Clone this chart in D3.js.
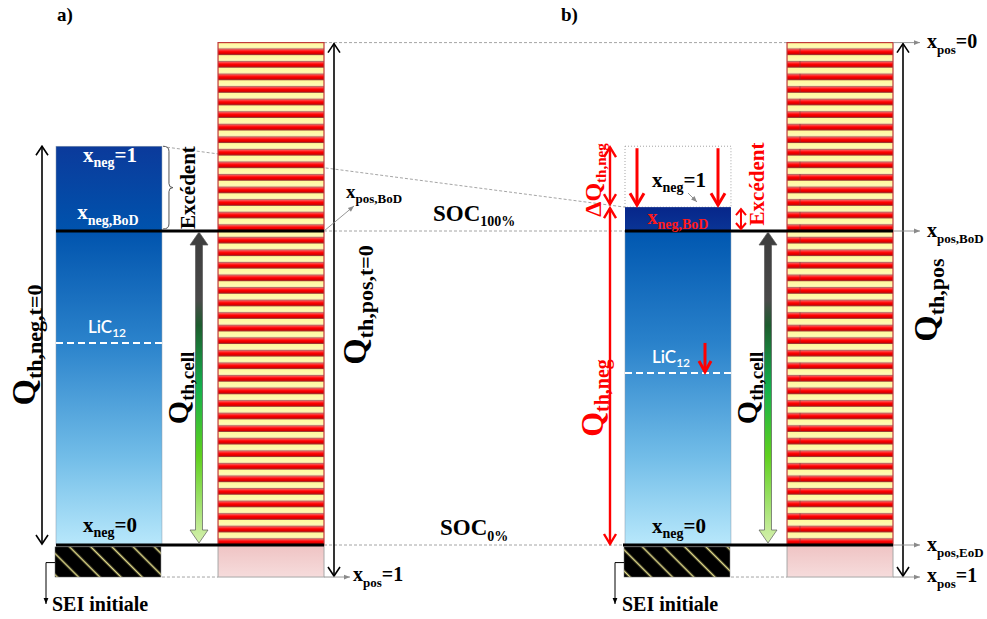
<!DOCTYPE html>
<html><head><meta charset="utf-8">
<script src="https://cdn.jsdelivr.net/npm/d3@7"></script>
<style>body{margin:0;background:#fff}svg{display:block}</style>
</head><body>
<svg id="c" width="987" height="619"></svg>
<script>
// ---- data (capacity levels, arbitrary units: SOC0% = 0, SOC100% = 100) ----
const panels = ["a", "b"];
const panelLabels = ["a)", "b)"];
const electrodes = ["neg", "pos"];
const socLevels = [0, 100];
const socSubs = ["0%", "100%"];
const posTop = 160, posBottom = -10.2;
const negTopLevels = [127, 107.6];      // x_neg = 1 (panel a, panel b)
const lic12Levels = [64.3, 54.8];       // LiC12 (panel a, panel b)
const seiLevels = [-0.6, -10.2];
const posMarks = [160, 100, 0, -10.2];
const posMarkSubs = ["pos", "pos,BoD", "pos,EoD", "pos"];
const posMarkTails = ["=0", "", "", "=1"];

const SERIF = "'Liberation Serif','Times New Roman',serif";
const svg = d3.select("#c");
const y = d3.scaleLinear().domain([0, 100]).range([545, 231]);
const xPanel = d3.scaleBand().domain(panels).range([56, 56 + 2 * 569]);
const xElec = d3.scaleBand().domain(electrodes).range([0, 268]).paddingInner(0.346);
const X = (p, e) => xPanel(p) + xElec(e);
const bw = xElec.bandwidth();

// ---- defs ----
const defs = svg.append("defs");
function lg(id, stops, x2 = 0, y2 = 1) {
  const g = defs.append("linearGradient").attr("id", id).attr("x1", 0).attr("y1", 0).attr("x2", x2).attr("y2", y2);
  stops.forEach(([o, c]) => g.append("stop").attr("offset", o).attr("stop-color", c));
}
lg("negA", [[0, "#0b3a9b"], [0.21, "#0053ad"], [0.5, "#2c84cc"], [0.78, "#72bde8"], [1, "#b8e8fb"]]);
lg("negB", [[0, "#0057b0"], [0.36, "#2a82cb"], [0.72, "#72bde8"], [1, "#b8e8fb"]]);
lg("negTopB", [[0, "#07268a"], [1, "#0a3596"]]);
lg("redBand", [[0, "#f4b0b0"], [0.22, "#ff3a3a"], [0.5, "#ff0000"], [0.82, "#d40000"], [1, "#7a0a0a"]]);
lg("yelBand", [[0, "#fff99a"], [1, "#fffce0"]]);
lg("pink", [[0, "#efc3c3"], [1, "#f6dcdc"]]);
lg("cell", [[0, "#3d3d3d"], [0.22, "#4a4a4a"], [0.3, "#1d5c2e"], [0.5, "#13b04c"], [0.72, "#5fd01e"], [1, "#d6f0ae"]]);

const stripeH = (y(0) - y(posTop)) / 40;
const sp = defs.append("pattern").attr("id", "stripes").attr("patternUnits", "userSpaceOnUse")
  .attr("width", 400).attr("height", stripeH).attr("y", y(posTop));
sp.append("rect").attr("width", 400).attr("height", stripeH).attr("fill", "url(#yelBand)");
sp.append("rect").attr("y", stripeH * 0.48).attr("width", 400).attr("height", stripeH * 0.5)
  .attr("fill", "url(#redBand)").attr("stroke", "#8a3030").attr("stroke-width", 0.6);

const sei = defs.append("pattern").attr("id", "sei").attr("patternUnits", "userSpaceOnUse")
  .attr("width", 15).attr("height", 15).attr("patternTransform", "rotate(45)");
sei.append("rect").attr("width", 15).attr("height", 15).attr("fill", "#000");
sei.append("line").attr("x1", 0).attr("x2", 15).attr("y1", 7.5).attr("y2", 7.5)
  .attr("stroke", "#e6df8c").attr("stroke-width", 1.6);

defs.append("marker").attr("id", "gh").attr("viewBox", "0 0 10 10").attr("refX", 10).attr("refY", 5)
  .attr("markerUnits", "userSpaceOnUse").attr("markerWidth", 7).attr("markerHeight", 6).attr("orient", "auto")
  .append("path").attr("d", "M0,1L10,5L0,9z").attr("fill", "#8a8a8a");
defs.append("marker").attr("id", "bh").attr("viewBox", "0 0 10 10").attr("refX", 10).attr("refY", 5)
  .attr("markerUnits", "userSpaceOnUse").attr("markerWidth", 6).attr("markerHeight", 6).attr("orient", "auto")
  .append("path").attr("d", "M0,1L10,5L0,9z").attr("fill", "#000");

// ---- helpers ----
function rich(g, x, yy, parts, o = {}) {
  const t = g.append("text").attr("text-anchor", o.anchor || "start").attr("fill", o.fill || "#000")
    .attr("font-family", o.family || SERIF).attr("font-weight", o.weight || "bold");
  if (o.rotate) t.attr("transform", `translate(${x},${yy}) rotate(${o.rotate})`);
  else t.attr("x", x).attr("y", yy);
  let prev = 0;
  parts.forEach(([s, size, shift = 0]) => {
    t.append("tspan").attr("font-size", size).attr("dy", shift - prev).text(s);
    prev = shift;
  });
  return t;
}
function vArrow(g, x, y1, y2, o = {}) {
  const c = o.color || "#000", w = o.width || 1.6, hw = o.hw || 6, hh = o.hh || 9;
  const heads = o.heads || [true, true];
  g.append("line").attr("x1", x).attr("x2", x).attr("y1", y1).attr("y2", y2)
    .attr("stroke", c).attr("stroke-width", w);
  const p = d3.path();
  if (heads[0]) { p.moveTo(x - hw, y1 + hh); p.lineTo(x, y1); p.lineTo(x + hw, y1 + hh); }
  if (heads[1]) { p.moveTo(x - hw, y2 - hh); p.lineTo(x, y2); p.lineTo(x + hw, y2 - hh); }
  g.append("path").attr("d", p.toString()).attr("fill", "none").attr("stroke", c)
    .attr("stroke-width", w).attr("stroke-linejoin", "miter");
}
function dashed(g, x1, y1, x2, y2) {
  g.append("line").attr("x1", x1).attr("y1", y1).attr("x2", x2).attr("y2", y2)
    .attr("stroke", "#9a9a9a").attr("stroke-width", 0.9).attr("stroke-dasharray", "3,2");
}
function grayArrow(g, x1, y1, x2, y2) {
  g.append("line").attr("x1", x1).attr("y1", y1).attr("x2", x2).attr("y2", y2)
    .attr("stroke", "#8a8a8a").attr("stroke-width", 0.9).attr("marker-end", "url(#gh)");
}

const gBack = svg.append("g");
const gMain = svg.append("g");
const gTop = svg.append("g");

// ---- guide lines ----
dashed(gBack, X("a", "pos") + bw, y(posTop), X("b", "pos"), y(posTop));
dashed(gBack, X("a", "pos") + bw, y(100), X("b", "neg"), y(100));
dashed(gBack, X("a", "pos") + bw, y(0), X("b", "neg"), y(0));
dashed(gBack, X("a", "neg") + bw, y(posBottom), X("a", "pos"), y(posBottom));
dashed(gBack, X("b", "neg") + bw, y(posBottom), X("b", "pos"), y(posBottom));
dashed(gBack, X("a", "neg") + bw + 5, y(negTopLevels[0]) + 1, X("b", "neg"), y(negTopLevels[1]));

panels.forEach((p, i) => {
  const nx = X(p, "neg"), px = X(p, "pos");
  rich(gTop, xPanel(p) + 1 + (i ? -65 : 0), 21, [[panelLabels[i], 19]]);

  // negative electrode
  if (i === 0) {
    gMain.append("rect").attr("x", nx).attr("y", y(negTopLevels[0])).attr("width", bw)
      .attr("height", y(0) - y(negTopLevels[0])).attr("fill", "url(#negA)").attr("stroke", "#8899aa").attr("stroke-width", 0.5);
  } else {
    gMain.append("rect").attr("x", nx).attr("y", y(negTopLevels[0])).attr("width", bw)
      .attr("height", y(negTopLevels[1]) - y(negTopLevels[0])).attr("fill", "none")
      .attr("stroke", "#9a9a9a").attr("stroke-width", 0.9).attr("stroke-dasharray", "1,2");
    gMain.append("rect").attr("x", nx).attr("y", y(negTopLevels[1])).attr("width", bw)
      .attr("height", y(100) - y(negTopLevels[1])).attr("fill", "url(#negTopB)");
    gMain.append("rect").attr("x", nx).attr("y", y(100)).attr("width", bw)
      .attr("height", y(0) - y(100)).attr("fill", "url(#negB)").attr("stroke", "#8899aa").attr("stroke-width", 0.5);
  }
  // SEI
  gMain.append("rect").attr("x", nx - 1).attr("y", y(seiLevels[0])).attr("width", bw)
    .attr("height", y(seiLevels[1]) - y(seiLevels[0])).attr("fill", "url(#sei)").attr("stroke", "#777").attr("stroke-width", 0.5);
  const sl = d3.path(); sl.moveTo(nx - 1, y(-5.6)); sl.lineTo(nx - 10, y(-5.6)); sl.lineTo(nx - 10, 604);
  gMain.append("path").attr("d", sl.toString()).attr("fill", "none").attr("stroke", "#000").attr("stroke-width", 1).attr("marker-end", "url(#bh)");
  rich(gTop, nx - 4 + (i ? 1 : 0), 611, [["SEI initiale", 20]]);

  // LiC12
  gMain.append("line").attr("x1", nx).attr("x2", nx + bw).attr("y1", y(lic12Levels[i])).attr("y2", y(lic12Levels[i]))
    .attr("stroke", "#fff").attr("stroke-width", 2).attr("stroke-dasharray", "7,4");
  rich(gTop, nx + (i ? 27 : 32), y(lic12Levels[i]) - 10, [["LiC", 17], ["12", 12, 4]], { fill: "#fff", family: "Lato,'Open Sans',sans-serif", weight: 600 });

  // positive electrode
  gMain.append("rect").attr("x", px).attr("y", y(posTop)).attr("width", bw).attr("height", y(0) - y(posTop))
    .attr("fill", "url(#stripes)").attr("stroke", "#c03a3a").attr("stroke-width", 1.2);
  gMain.append("rect").attr("x", px).attr("y", y(0)).attr("width", bw).attr("height", y(posBottom) - y(0))
    .attr("fill", "url(#pink)").attr("stroke", "#a8a8a8").attr("stroke-width", 1);

  // thick SOC lines
  socLevels.forEach(s => gMain.append("line").attr("x1", nx - (s === 0 && i ? 2 : 0)).attr("x2", px + bw)
    .attr("y1", y(s)).attr("y2", y(s)).attr("stroke", "#000").attr("stroke-width", 3));

  // Q_th,cell gradient arrow
  const cx = nx + 143;
  const t0 = y(100) + 1, b0 = y(0) - 2;
  const ap = d3.path();
  ap.moveTo(cx, t0); ap.lineTo(cx + 9, t0 + 13); ap.lineTo(cx + 3.5, t0 + 13); ap.lineTo(cx + 3.5, b0 - 13);
  ap.lineTo(cx + 9, b0 - 13); ap.lineTo(cx, b0); ap.lineTo(cx - 9, b0 - 13); ap.lineTo(cx - 3.5, b0 - 13);
  ap.lineTo(cx - 3.5, t0 + 13); ap.lineTo(cx - 9, t0 + 13); ap.closePath();
  gMain.append("path").attr("d", ap.toString()).attr("fill", "url(#cell)").attr("stroke", "#5a5a5a").attr("stroke-width", 0.7);
  rich(gTop, cx - 11, 388, [["Q", 30], ["th,cell", 19, 6]], { rotate: -90, anchor: "middle" });

  // positive arrow
  vArrow(gMain, px + bw + 10, y(posTop) + 1, y(posBottom) - 1);
});

// ---- panel a specifics ----
{
  const nx = X("a", "neg"), px = X("a", "pos");
  vArrow(gMain, nx - 14, y(negTopLevels[0]), y(0) - 1);
  rich(gTop, 35, 345, [["Q", 34], ["th,neg,t=0", 22, 7]], { rotate: -90, anchor: "middle" });
  rich(gTop, nx + 54, 162, [["x", 21], ["neg", 14, 5], ["=1", 21, 0]], { anchor: "middle", fill: "#fff" });
  rich(gTop, nx + 52, 219, [["x", 21], ["neg,BoD", 14, 6]], { anchor: "middle", fill: "#fff" });
  rich(gTop, nx + 54, 532, [["x", 21], ["neg", 14, 5], ["=0", 21, 0]], { anchor: "middle" });
  // Excédent bracket
  const t = y(negTopLevels[0]), b = y(100) - 2, m = (t + b) / 2, bx = nx + bw + 1;
  const br = d3.path();
  br.moveTo(bx, t); br.quadraticCurveTo(bx + 6, t, bx + 6, t + 5); br.lineTo(bx + 6, m - 4);
  br.quadraticCurveTo(bx + 6, m, bx + 10, m); br.quadraticCurveTo(bx + 6, m, bx + 6, m + 4);
  br.lineTo(bx + 6, b - 5); br.quadraticCurveTo(bx + 6, b, bx, b);
  gMain.append("path").attr("d", br.toString()).attr("fill", "none").attr("stroke", "#555").attr("stroke-width", 1);
  rich(gTop, nx + 139, m, [["Excédent", 21]], { rotate: -90, anchor: "middle" });
  rich(gTop, px + bw + 42, 305, [["Q", 34], ["th,pos,t=0", 22, 7]], { rotate: -90, anchor: "middle" });
  grayArrow(gTop, px + bw, y(100), px + bw + 30, y(100) - 25);
  rich(gTop, px + bw + 22, 198, [["x", 19], ["pos,BoD", 13, 5]]);
  grayArrow(gTop, px + bw, y(posBottom), px + bw + 26, y(posBottom));
  rich(gTop, px + bw + 29, 581, [["x", 20], ["pos", 13, 6], ["=1", 20, 0]]);
}

// ---- SOC labels ----
rich(gTop, 433, 221, [["SOC", 23], [socSubs[1], 14, 5]]);
rich(gTop, 440, 535, [["SOC", 23], [socSubs[0], 14, 6]]);

// ---- panel b specifics ----
{
  const nx = X("b", "neg"), px = X("b", "pos");
  const RED = "#ff0000";
  const ax = nx - 15;
  vArrow(gMain, ax, y(negTopLevels[0]) + 1, y(negTopLevels[1]) - 3, { color: RED, width: 2.4, hw: 6, hh: 10 });
  vArrow(gMain, ax, y(negTopLevels[1]) + 1, y(0) - 1, { color: RED, width: 2.4, hw: 6, hh: 10 });
  rich(gTop, ax - 9, 180, [["ΔQ", 24], ["th,neg", 15, 5]], { rotate: -90, anchor: "middle", fill: RED });
  rich(gTop, ax - 7, 398, [["Q", 32], ["th,neg", 20, 6]], { rotate: -90, anchor: "middle", fill: RED });
  [12, 93].forEach(dx => vArrow(gMain, nx + dx, y(negTopLevels[0]) + 2, y(negTopLevels[1]) - 2,
    { color: RED, width: 3, hw: 7, hh: 12, heads: [false, true] }));
  rich(gTop, nx + 54, 187, [["x", 21], ["neg", 14, 5], ["=1", 21, 0]], { anchor: "middle" });
  grayArrow(gTop, nx + 63, 193, nx + 72, 202);
  rich(gTop, nx + 53, 224, [["x", 20], ["neg,BoD", 14, 5]], { anchor: "middle", fill: "#ff1a1a" });
  rich(gTop, nx + 54, 533, [["x", 21], ["neg", 14, 5], ["=0", 21, 0]], { anchor: "middle" });
  vArrow(gMain, nx + 80, y(lic12Levels[1]) - 30, y(lic12Levels[1]) - 1, { color: RED, width: 3, hw: 6, hh: 11, heads: [false, true] });
  vArrow(gMain, nx + bw + 10, y(negTopLevels[1]) + 2, y(100) - 2, { color: RED, width: 2, hw: 5, hh: 6 });
  rich(gTop, nx + 139, 184, [["Excédent", 21]], { rotate: -90, anchor: "middle", fill: RED });
  rich(gTop, px + bw + 44, 300, [["Q", 34], ["th,pos", 22, 7]], { rotate: -90, anchor: "middle" });
  posMarks.forEach((v, k) => {
    grayArrow(gTop, px + bw, y(v), px + bw + 27, y(v));
    rich(gTop, px + bw + 34, y(v) + (k === 0 ? 5 : k === 3 ? 5 : 6),
      [["x", 20], [posMarkSubs[k], 13, 6], [posMarkTails[k], 20, 0]]);
  });
}
</script>
</body></html>
